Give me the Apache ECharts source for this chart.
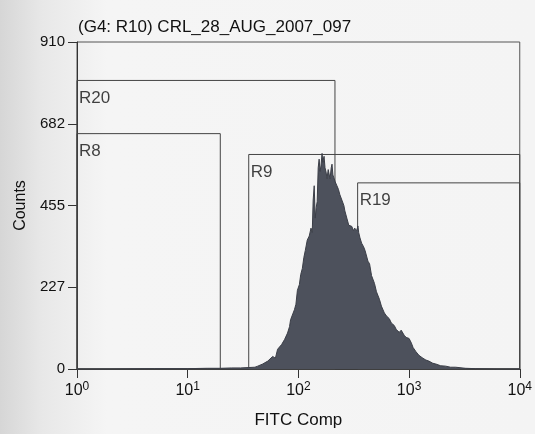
<!DOCTYPE html>
<html>
<head>
<meta charset="utf-8">
<script src="https://cdn.jsdelivr.net/npm/echarts@6/dist/echarts.min.js"></script>
<style>
html,body{margin:0;padding:0;background:#f3f3f3;}
#chart{width:535px;height:434px;}
</style>
</head>
<body>
<div id="chart"></div>
<script>
// ---- Data ----
var title = "(G4: R10) CRL_28_AUG_2007_097";
var xName = "FITC Comp";
var yName = "Counts";
var yTickLabels = ["0", "227", "455", "682", "910"];
var xTickExps = ["0", "1", "2", "3", "4"];

// histogram: FITC value (log scale) and counts
var fitc = [1,2,5,10,15,20,25,30,35.1,40.5,43,47.7,52.9,58.6,62,64.9,70.5,75,79.8,83.2,85,88.4,92.1,95,98,102.1,105,108.6,112,115.5,120.3,125.4,130,133.4,136,139,141.9,145,147.9,151,154,157.1,160,163.7,166,170.6,174,177.8,181.5,186,193.1,198,201.3,205,209.6,215,222.9,230,237.1,247.2,257.6,263,273.8,285.3,295,303.4,315,322.7,336.3,345,350.5,360,372.8,388.4,400,413.1,425,439.5,458,487,507.5,539.8,562.3,598.2,623.4,663,690.9,734.9,765.9,814.6,848.9,902.6,940.6,1000,1050,1086,1155,1228,1334,1418,1509,1638,1742,1931,2138,2371,2629,3228,3963,5979,10000];
var counts = [0,0,1,1,2,2,3,3,4,5,8,14,22,35,30,55,68,82,100,118,137,140,165,180,219,235,263,280,310,330,359,370,392,380,470,510,420,450,466,560,584,550,565,600,575,592,560,548,530,555,529,560,570,540,545,521,510,500,485,470,455,440,420,400,405,397,385,392,385,398,380,365,350,340,330,326,300,293,260,238,215,194,175,156,148,140,128,121,110,102,108,94,88,85,72,60,48,38,30,25,22,16,14,9,8,5,5,2,1,0,0];

// gates (regions)
var gateNames = ["R20", "R8", "R9", "R19"];
var gateLeft  = [1, 1, 35.6, 343];
var gateRight = [214, 19.7, 10000, 10000];
var gateTop   = [803, 655, 597, 518];

// ---- Chart ----
var histData = fitc.map(function (x, i) { return [x, counts[i]]; });
var gateAreas = gateNames.map(function (n, i) {
  return [
    { coord: [gateLeft[i], gateTop[i]] },
    { coord: [gateRight[i], 0] }
  ];
});
var gateLabelData = gateNames.map(function (n, i) {
  return { value: [gateLeft[i], gateTop[i]], name: n };
});

var chart = echarts.init(document.getElementById('chart'), null, {renderer: 'canvas'});
var font = "'Liberation Sans', Arial, sans-serif";
chart.setOption({
  backgroundColor: new echarts.graphic.LinearGradient(0, 0, 1, 0, [
    {offset: 0, color: '#d6d6d6'},
    {offset: 0.08, color: '#e8e8e8'},
    {offset: 0.2, color: '#f5f5f5'},
    {offset: 1, color: '#f4f4f4'}
  ]),
  animation: false,
  title: {
    text: title,
    left: 73, top: 14,
    textStyle: {fontFamily: font, fontSize: 17, fontWeight: 'normal', color: '#111'}
  },
  grid: {left: 77, right: 11, top: 42, bottom: 61, show: true, borderColor: '#555', borderWidth: 1, backgroundColor: 'transparent'},
  xAxis: {
    type: 'log', logBase: 10, min: 1, max: 10000,
    name: xName, nameLocation: 'middle', nameGap: 43,
    nameTextStyle: {fontFamily: font, fontSize: 17, color: '#111'},
    axisLine: {lineStyle: {color: '#333', width: 1}},
    axisTick: {show: true, length: 9, lineStyle: {color: '#333'}},
    minorTick: {show: false},
    splitLine: {show: false},
    axisLabel: {
      margin: 12,
      formatter: function (v) {
        var e = Math.round(Math.log10(v));
        return '{b|10}{s|' + xTickExps[e] + '}';
      },
      rich: {
        b: {fontFamily: font, fontSize: 16, color: '#111'},
        s: {fontFamily: font, fontSize: 12, color: '#111', verticalAlign: 'top', padding: [0, 0, 8, 0]}
      }
    }
  },
  yAxis: {
    type: 'value', min: 0, max: 910, interval: 227.5,
    name: yName, nameLocation: 'middle', nameGap: 37,
    nameTextStyle: {fontFamily: font, fontSize: 16, color: '#111'},
    axisLine: {show: true, lineStyle: {color: '#333', width: 1}},
    axisTick: {show: true, length: 9, lineStyle: {color: '#333'}},
    splitLine: {show: false},
    axisLabel: {
      fontFamily: font, fontSize: 15, color: '#111', margin: 12,
      formatter: function (v) {
        return yTickLabels[Math.round(v / 227.5)];
      }
    }
  },
  series: [
    {
      type: 'line', data: [], z: 1,
      markArea: {
        silent: true,
        itemStyle: {color: 'rgba(0,0,0,0)', borderColor: '#444', borderWidth: 1},
        label: {show: false},
        data: gateAreas
      }
    },
    {
      type: 'scatter', data: gateLabelData, z: 4, symbolSize: 0, silent: true,
      label: {
        show: true, position: 'insideTopLeft',
        formatter: '{b}',
        align: 'left', verticalAlign: 'top', offset: [-3, 4],
        fontFamily: font, fontSize: 17, color: '#111'
      }
    },
    {
      type: 'line', data: histData, z: 3,
      showSymbol: false, smooth: false,
      lineStyle: {color: '#3b3e47', width: 1},
      areaStyle: {color: '#4d515c', opacity: 1}
    }
  ]
});
</script>
</body>
</html>
